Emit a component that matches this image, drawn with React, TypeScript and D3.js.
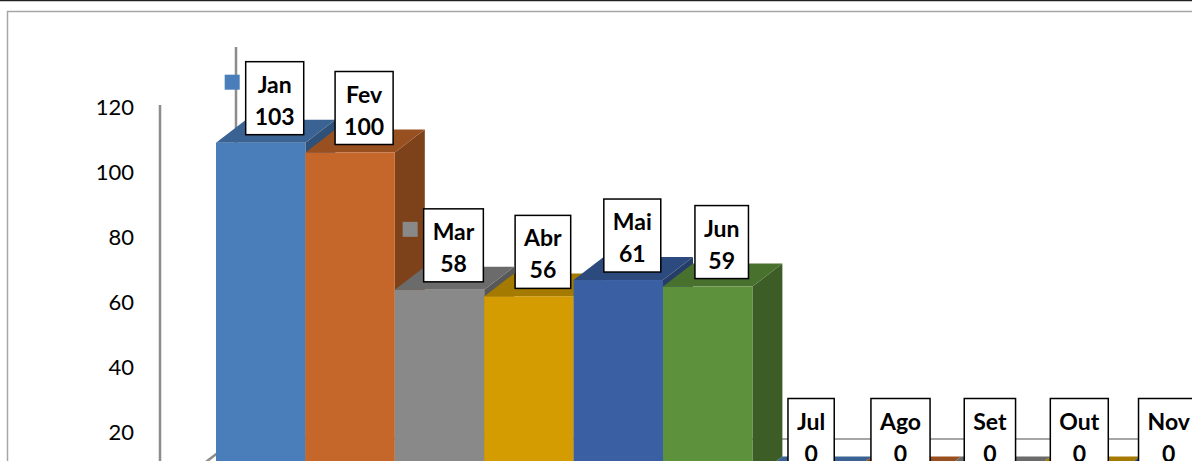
import React, { useEffect, useRef } from 'react'
import * as d3 from 'd3'

const months = ['Jan', 'Fev', 'Mar', 'Abr', 'Mai', 'Jun', 'Jul', 'Ago', 'Set', 'Out', 'Nov', 'Dez']
const values = [103, 100, 58, 56, 61, 59, 0, 0, 0, 0, 0, 0]
const yTicks = [0, 20, 40, 60, 80, 100, 120]
const palette = ['#4A7EBB', '#C5672A', '#898989', '#D49C00', '#3A5FA3', '#5E913B']
const keyedLabels = ['Jan', 'Mar']

const W = 1192
const H = 461

const App = () => {
  const ref = useRef<SVGSVGElement>(null)

  useEffect(() => {
    const svg = d3.select(ref.current)
    svg.selectAll('*').remove()

    // 3D offsets: wall depth and bar depth
    const wall = { dx: 76, dy: -58 }
    const depth = { dx: 30, dy: -23 }

    const x = d3.scaleBand().domain(months).range([216, 216 + 12 * 89.4]).padding(0)
    const yBar = d3.scaleLinear().domain([0, 120]).range([479.5, 479.5 - 120 * 3.27])
    const yAxis = d3.scaleLinear().domain([0, 120]).range([497, 107])
    const color = d3.scaleOrdinal<string>().domain(months).range(palette)

    // frame
    svg.append('line').attr('x1', 0).attr('x2', W).attr('y1', 0.5).attr('y2', 0.5).attr('stroke', '#222').attr('stroke-width', 1.5)
    svg.append('rect').attr('x', 7.5).attr('y', 11.5).attr('width', W).attr('height', H).attr('fill', 'none').attr('stroke', '#A6A6A6').attr('stroke-width', 1.5)

    // walls
    const g = svg.append('g').attr('stroke', '#8C8C8C').attr('stroke-width', 2.5).attr('fill', 'none')
    const x0 = 160
    const top = yAxis(120) - 2
    g.append('line').attr('x1', x0).attr('x2', x0).attr('y1', top).attr('y2', yAxis(0))
    g.append('line').attr('x1', x0 + wall.dx).attr('x2', x0 + wall.dx).attr('y1', top + wall.dy).attr('y2', yAxis(0) + wall.dy)
    g.append('line').attr('x1', x0).attr('y1', yAxis(0)).attr('x2', x0 + wall.dx).attr('y2', yAxis(0) + wall.dy)
    g.append('line').attr('x1', x0 + wall.dx).attr('x2', W + 20).attr('y1', yAxis(0) + wall.dy).attr('y2', yAxis(0) + wall.dy).attr('stroke', '#A6A6A6').attr('stroke-width', 2)

    // y axis labels
    const ax = svg
      .append('g')
      .attr('transform', `translate(${x0},0)`)
      .call(d3.axisLeft(yAxis).tickValues(yTicks).tickSize(0).tickPadding(26))
    ax.select('.domain').remove()
    ax.selectAll('text').attr('font-family', 'Lato, Carlito, sans-serif').attr('font-size', 22).attr('fill', '#000')

    // bars
    const bw = x.bandwidth()
    months.forEach((m, i) => {
      const v = values[i]
      const c = d3.color(color(m))!
      const xl = x(m)!
      const xr = xl + bw
      const yt = yBar(v)
      const yb = yBar(0)
      const bg = svg.append('g')
      bg.append('path')
        .attr('d', `M${xr},${yt}L${xr + depth.dx},${yt + depth.dy}L${xr + depth.dx},${yb + depth.dy}L${xr},${yb}Z`)
        .attr('fill', c.darker(1.25).formatHex())
      bg.append('path')
        .attr('d', `M${xl},${yt}L${xl + depth.dx},${yt + depth.dy}L${xr + depth.dx},${yt + depth.dy}L${xr},${yt}Z`)
        .attr('fill', c.darker(0.7).formatHex())
      bg.append('rect').attr('x', xl).attr('y', yt).attr('width', bw).attr('height', yb - yt).attr('fill', c.formatHex())
    })

    // data labels
    months.forEach((m, i) => {
      const v = values[i]
      const cx = x(m)! + bw / 2 + 14
      const bottom = yBar(v) - 8
      const boxH = 73
      const lg = svg.append('g')
      const rect = lg.append('rect').attr('fill', '#fff').attr('stroke', '#000').attr('stroke-width', 1.5)
      const t1 = lg
        .append('text')
        .attr('x', cx)
        .attr('y', bottom - boxH + 22)
        .text(m)
      const t2 = lg
        .append('text')
        .attr('x', cx)
        .attr('y', bottom - boxH + 54)
        .text(String(v))
      lg.selectAll('text')
        .attr('text-anchor', 'middle')
        .attr('dominant-baseline', 'central')
        .attr('font-family', 'Lato, Carlito, sans-serif')
        .attr('font-weight', 'bold')
        .attr('font-size', 23)
        .attr('fill', '#000')
      const tw = Math.max((t1.node() as SVGTextElement).getComputedTextLength(), (t2.node() as SVGTextElement).getComputedTextLength())
      const boxW = tw + 18
      rect.attr('x', cx - boxW / 2).attr('y', bottom - boxH).attr('width', boxW).attr('height', boxH)
      if (keyedLabels.includes(m)) {
        lg.append('rect')
          .attr('x', cx - boxW / 2 - 21)
          .attr('y', bottom - boxH + 13)
          .attr('width', 15)
          .attr('height', 15)
          .attr('fill', color(m))
      }
    })
  }, [])

  return (
    <svg
      ref={ref}
      width={W}
      height={H}
      style={{ position: 'absolute', left: 0, top: 0, background: '#fff' }}
    />
  )
}

export default App
